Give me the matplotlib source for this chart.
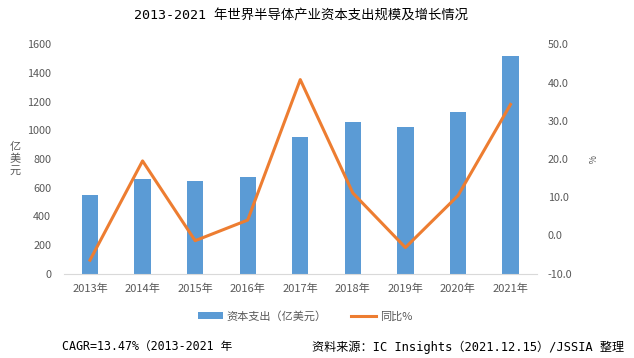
import matplotlib
matplotlib.use("Agg")
import matplotlib.pyplot as plt
import numpy as np

plt.rcParams['font.family'] = ['Noto Sans CJK SC', 'DejaVu Sans']
MONO = ['DejaVu Sans Mono', 'Noto Sans CJK SC']

years = ["2013年", "2014年", "2015年", "2016年", "2017年", "2018年", "2019年", "2020年", "2021年"]
capex = [548, 660, 646, 674, 954, 1059, 1024, 1128, 1520]
growth = [-6.5, 19.5, -1.4, 4.0, 40.8, 11.1, -3.2, 10.4, 34.3]
ylabel_chars = ["亿", "美", "元"]

blue = "#5B9BD5"
orange = "#ED7D31"
grey = "#595959"

fig = plt.figure(figsize=(6.34, 3.58), dpi=100)
ax = fig.add_axes([0.1005, 0.236, 0.7462, 0.6397])
x = np.arange(len(years))
ax.bar(x, capex, width=0.31, color=blue, label="资本支出（亿美元）", zorder=2)
ax.set_xlim(-0.5, len(years) - 0.5)
ax.set_ylim(0, 1600)
ax.set_yticks(range(0, 1601, 200))
ax.set_xticks(x)
ax.set_xticklabels(years)
for s in ["top", "right", "left"]:
    ax.spines[s].set_visible(False)
ax.spines["bottom"].set_color("#D9D9D9")
ax.tick_params(axis="both", length=0, colors=grey)
ax.tick_params(axis="y", pad=9, labelsize=7.8)
ax.tick_params(axis="x", pad=7.5, labelsize=8)

ax2 = ax.twinx()
ax2.plot(x, growth, color=orange, lw=2.2, label="同比%", zorder=3)
ax2.set_ylim(-10, 50)
ax2.set_yticks(range(-10, 51, 10))
ax2.set_yticklabels([f"{v:.1f}" for v in range(-10, 51, 10)])
for s in ["top", "right", "left", "bottom"]:
    ax2.spines[s].set_visible(False)
ax2.tick_params(axis="y", length=0, colors=grey, labelsize=7.8, pad=8)

fig.text(0.4756, 0.958, "2013-2021 年世界半导体产业资本支出规模及增长情况", ha="center", va="center",
         fontsize=9.6, family=MONO)
for i, ch in enumerate(ylabel_chars):
    fig.text(0.0237, 1 - (147 + 12 * i) / 358, ch, ha="center", va="center", fontsize=8, color=grey)
fig.text(0.931, 0.556, "%", ha="center", va="center", fontsize=6.5, color=grey, rotation=-90)

h1, l1 = ax.get_legend_handles_labels()
h2, l2 = ax2.get_legend_handles_labels()
fig.legend(h1 + h2, l1 + l2, loc="center", bbox_to_anchor=(0.481, 0.117), ncol=2, frameon=False,
           fontsize=8, labelcolor=grey, handlelength=2.25, handleheight=0.55, columnspacing=2.15,
           handletextpad=0.35, borderpad=0, borderaxespad=0)

fig.text(0.0973, 0.031, "CAGR=13.47%（2013-2021 年", ha="left", va="center", fontsize=8.4, family=MONO)
fig.text(0.492, 0.031, "资料来源：IC Insights（2021.12.15）/JSSIA 整理", ha="left", va="center",
         fontsize=8.7, family=MONO)

fig.savefig("out.png", dpi=100)
